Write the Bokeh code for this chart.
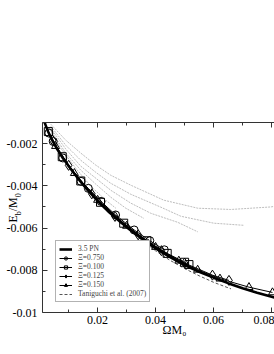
from bokeh.plotting import figure
from bokeh.models import Range1d, LinearAxis, FixedTicker, Legend, LegendItem
from bokeh.embed import file_html
from bokeh.resources import INLINE

# ---------------- data ----------------
pn_x = [0.0015, 0.002, 0.003, 0.004, 0.006, 0.008, 0.010, 0.012, 0.014, 0.016, 0.018, 0.020,
        0.024, 0.028, 0.032, 0.036, 0.040, 0.045, 0.050, 0.055, 0.060, 0.065, 0.070, 0.075, 0.081]
pn_y = [-0.00093, -0.00110, -0.00145, -0.00175, -0.00225, -0.00268, -0.00306, -0.00343, -0.00378,
        -0.00411, -0.00442, -0.00471, -0.00525, -0.00573, -0.00617, -0.00658, -0.00696, -0.00738,
        -0.00775, -0.00807, -0.00835, -0.00861, -0.00885, -0.00906, -0.00929]

tan_x = [0.003, 0.006, 0.010, 0.015, 0.020, 0.025, 0.030, 0.035, 0.040, 0.045, 0.050, 0.055, 0.060, 0.066]
tan_y = [-0.00146, -0.00227, -0.00309, -0.00393, -0.00476, -0.00542, -0.00600, -0.00655, -0.00708,
         -0.00753, -0.00792, -0.00826, -0.00857, -0.00888]

xi750_x = [0.0032, 0.0047, 0.0080, 0.0143, 0.0168, 0.0212, 0.0262, 0.0326, 0.0380, 0.0430]
xi750_y = [-0.00150, -0.00190, -0.00268, -0.00379, -0.00412, -0.00474, -0.00538, -0.00609, -0.00660, -0.00703]

xi100_x = [0.0030, 0.0078, 0.0142, 0.0210, 0.0290, 0.0370, 0.0440, 0.0500, 0.0515]
xi100_y = [-0.00143, -0.00262, -0.00377, -0.00478, -0.00577, -0.00660, -0.00720, -0.00762, -0.00773]

xi125_x = [0.0045, 0.0100, 0.0180, 0.0260, 0.0340, 0.0420, 0.0500, 0.0596, 0.0653]
xi125_y = [-0.00184, -0.00303, -0.00438, -0.00545, -0.00632, -0.00707, -0.00766, -0.00823, -0.00848]

xi150_x = [0.0055, 0.0120, 0.0200, 0.0300, 0.0400, 0.0480, 0.0545, 0.0622, 0.0722, 0.0803]
xi150_y = [-0.00212, -0.00340, -0.00467, -0.00590, -0.00690, -0.00755, -0.00798, -0.00840, -0.00880, -0.00905]

g1_x = [0.00386, 0.00903, 0.01421, 0.01938, 0.02455, 0.03145, 0.04283, 0.05455, 0.06593, 0.07972, 0.0815]
g1_y = [-0.00108, -0.00184, -0.00245, -0.00302, -0.00350, -0.00397, -0.00468, -0.00506, -0.00512, -0.00500, -0.00496]
g2_x = [0.00386, 0.00903, 0.01421, 0.01938, 0.02455, 0.03145, 0.04179, 0.04869, 0.06007, 0.07041]
g2_y = [-0.00118, -0.00208, -0.00279, -0.00336, -0.00388, -0.00440, -0.00501, -0.00544, -0.00577, -0.00587]
g3_x = [0.00386, 0.00903, 0.01421, 0.01938, 0.02455, 0.03145, 0.03835, 0.04766, 0.05455]
g3_y = [-0.00127, -0.00226, -0.00307, -0.00364, -0.00421, -0.00482, -0.00530, -0.00573, -0.00618]
g4_x = [0.00386, 0.00903, 0.01421, 0.01938, 0.02455, 0.02972, 0.03593]
g4_y = [-0.00137, -0.00245, -0.00326, -0.00392, -0.00454, -0.00506, -0.00554]
g5_x = [0.00317, 0.00731, 0.01248, 0.01766, 0.02283, 0.02628]
g5_y = [-0.00122, -0.00222, -0.00317, -0.00402, -0.00468, -0.00506]

x_ticks = [0.02, 0.04, 0.06, 0.08]
x_minor = [0.01, 0.03, 0.05, 0.07]
x_tick_labels = ["0.02", "0.04", "0.06", "0.08"]
y_ticks = [-0.01, -0.008, -0.006, -0.004, -0.002]
y_minor = [-0.009, -0.007, -0.005, -0.003, -0.001]
y_tick_labels = ["-0.01", "-0.008", "-0.006", "-0.004", "-0.002"]

# axis titles (pieces, so that subscripts can be drawn smaller)
x_title = "ΩM₀"
x_title_at = 0.0465
y_title_main = {-0.005566: "E", -0.004870: "/M"}
y_title_sub = {-0.005296: "b", -0.004444: "0"}

FONT = "Liberation Serif"
AX = "#333333"

# the canvas starts 18px left of the window edge (negative margin); the frame starts at x=42
p = figure(width=292, height=354, x_range=Range1d(0.001, 0.081), y_range=Range1d(-0.01, -0.001),
           output_backend="svg", toolbar_location=None, margin=(0, 0, 0, -18),
           min_border_left=60, min_border_right=0, min_border_top=122, min_border_bottom=42)
p.outline_line_color = None
p.xgrid.visible = False
p.ygrid.visible = False

def style_axis(ax, ticks, minor, labels, standoff):
    ax.ticker = FixedTicker(ticks=ticks, minor_ticks=minor)
    ax.major_label_overrides = {t: l for t, l in zip(ticks, labels)}
    ax.axis_line_color = AX
    ax.major_tick_line_color = AX
    ax.minor_tick_line_color = AX
    ax.major_tick_in = 5
    ax.major_tick_out = 0
    ax.minor_tick_in = 3
    ax.minor_tick_out = 0
    ax.major_label_text_font = FONT
    ax.major_label_text_color = "black"
    ax.major_label_text_font_size = "12px"
    ax.major_label_standoff = standoff

def text_axis(ticks_labels, size, standoff, orientation="horizontal"):
    ticks = list(ticks_labels.keys())
    return LinearAxis(ticker=FixedTicker(ticks=ticks, minor_ticks=[]),
                      major_label_overrides=dict(ticks_labels),
                      axis_line_color=None, major_tick_line_color=None, minor_tick_line_color=None,
                      major_tick_in=0, major_tick_out=0, minor_tick_in=0, minor_tick_out=0,
                      major_label_text_font=FONT, major_label_text_font_size=size,
                      major_label_text_color="black", major_label_standoff=standoff,
                      major_label_orientation=orientation)

# bottom: ticks + labels, then the title
style_axis(p.xaxis[0], x_ticks, x_minor, x_tick_labels, 3)
p.add_layout(text_axis({x_title_at: x_title}, "12px", -4), "below")

# top: mirrored ticks only
top = LinearAxis()
style_axis(top, x_ticks, x_minor, ["" for _ in x_ticks], 0)
p.add_layout(top, "above")

# left: ticks + tick labels at the frame, then the title pieces (subscripts, main)
style_axis(p.yaxis[0], y_ticks, y_minor, y_tick_labels, 5)
p.add_layout(text_axis(y_title_sub, "8px", -20, "vertical"), "left")
p.add_layout(text_axis(y_title_main, "12px", -17, "vertical"), "left")

# gray curves
for gx, gy in [(g1_x, g1_y), (g2_x, g2_y), (g3_x, g3_y), (g4_x, g4_y), (g5_x, g5_y)]:
    p.line(gx, gy, line_color="#bdbdbd", line_width=1, line_dash="2 1")

r_tan = p.line(tan_x, tan_y, line_color="#555555", line_width=1, line_dash="3 2")
r_pn = p.line(pn_x, pn_y, line_color="black", line_width=2.6)

items = [LegendItem(label="3.5 PN", renderers=[r_pn])]
for sx, sy, mk, lab in [(xi750_x, xi750_y, "circle", "Ξ=0.750"),
                        (xi100_x, xi100_y, "square", "Ξ=0.100"),
                        (xi125_x, xi125_y, "diamond", "Ξ=0.125"),
                        (xi150_x, xi150_y, "triangle", "Ξ=0.150")]:
    rl = p.line(sx, sy, line_color="black", line_width=1)
    rs = p.scatter(sx, sy, marker=mk, size=8 if mk != "diamond" else 10,
                   fill_color=None, line_color="black", line_width=1)
    items.append(LegendItem(label=lab, renderers=[rl, rs]))
items.append(LegendItem(label="Taniguchi et al. (2007)", renderers=[r_tan]))

legend = Legend(items=items, location=(13, 10), label_text_font=FONT, label_text_font_size="7.5px",
                label_text_line_height=0.9,
                label_height=8, glyph_height=8, glyph_width=13, label_standoff=6, spacing=0,
                padding=3, margin=0, border_line_color="#666666", border_line_width=1,
                background_fill_color="white", background_fill_alpha=1.0)
p.add_layout(legend, "center")

open("out.html", "w").write(file_html(p, INLINE))
